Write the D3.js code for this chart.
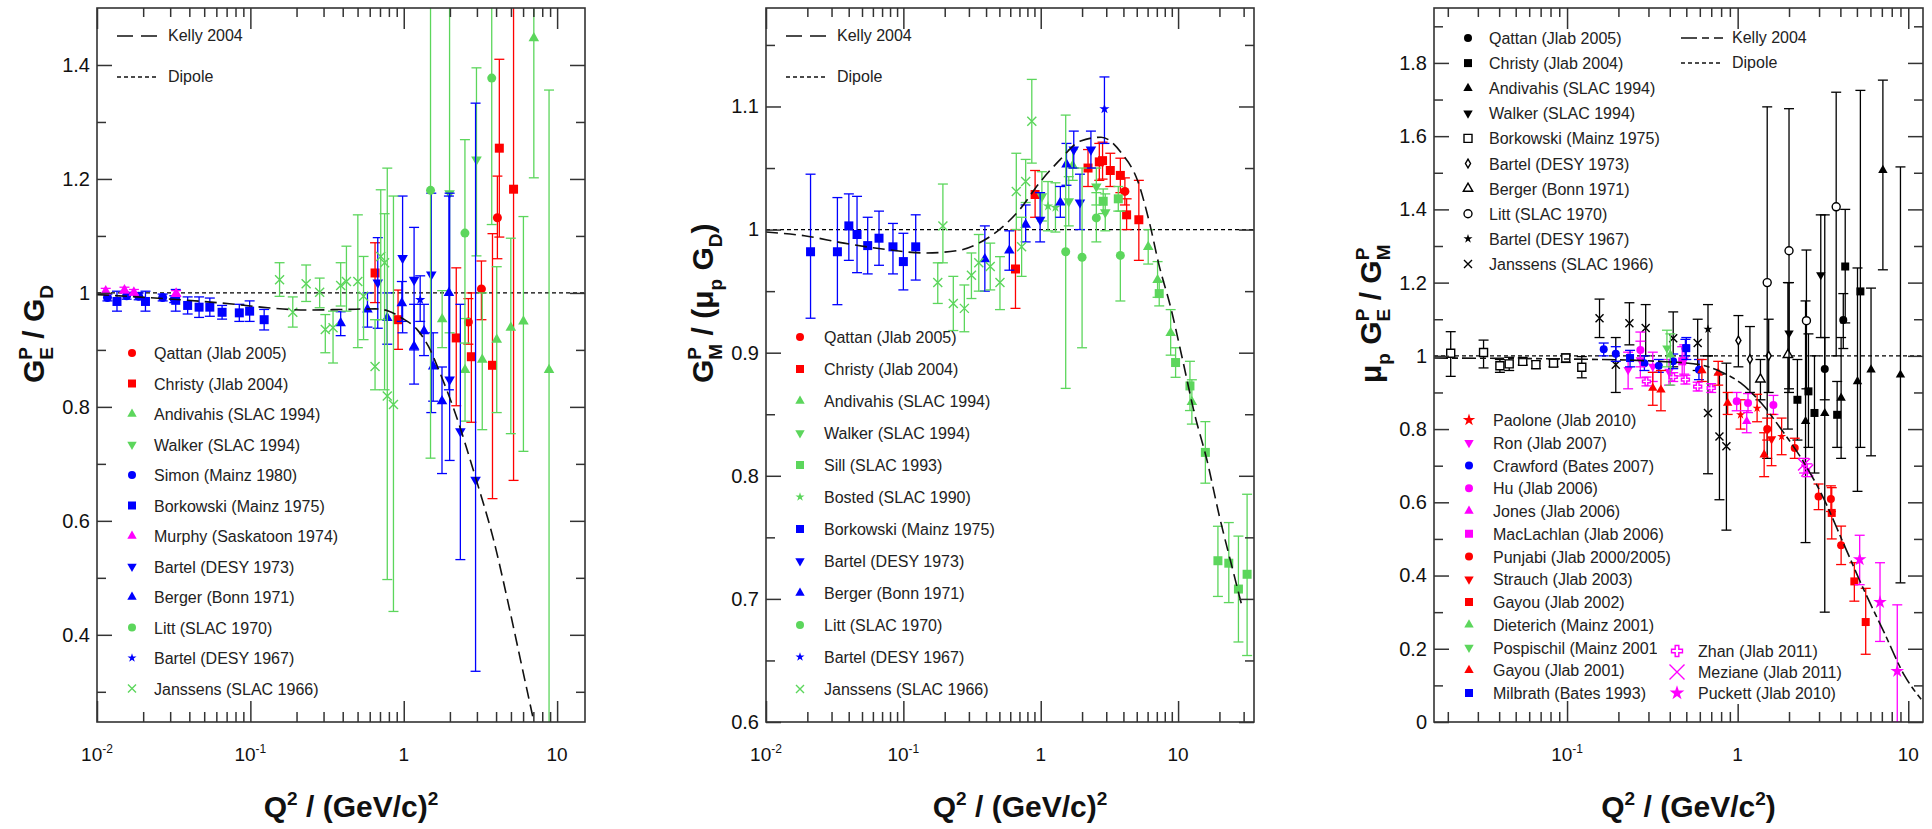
<!DOCTYPE html>
<html>
<head>
<meta charset="utf-8">
<script src="https://cdn.jsdelivr.net/npm/d3@7"></script>
<style>
  body { margin: 0; background: #ffffff; }
  svg { font-family: "Liberation Sans", Arial, Helvetica, sans-serif; }
</style>
</head>
<body>
<script>
// proton form factor ratios, three panels
// every point is [Q2, value, lower end of error bar, upper end of error bar]

// ---- panel 1 : GE / GD ----
const GE_QATTAN = [[2.64, 0.949, 0.91, 0.99], [3.21, 1.007, 0.953, 1.056], [4.08, 1.132, 1.06, 1.205]];
const GE_CHRISTY = [[0.65, 1.035, 0.983, 1.088], [0.918, 0.953, 0.901, 1.005], [2.2, 0.921, 0.802, 1.044],
  [2.76, 0.888, 0.773, 1.0], [3.79, 0.873, 0.639, 1.104], [4.2, 1.254, 1.098, 1.41], [5.2, 1.182, 0.671, 1.6]];
const GE_ANDIVAHIS = [[1.78, 0.954, 0.904, 1.004], [2.51, 0.865, 0.775, 0.955], [3.25, 0.883, 0.76, 1.0],
  [4.04, 0.918, 0.79, 1.046], [4.99, 0.939, 0.753, 1.096], [6.03, 0.95, 0.722, 1.134], [7.05, 1.447, 1.202, 1.6],
  [8.86, 0.865, 0.2, 1.356]];
const GE_WALKER = [[1.99, 1.175, 0.93, 1.6], [2.98, 1.234, 1.065, 1.395]];
const GE_SIMON = [[0.0117, 0.992, 0.986, 0.998], [0.0156, 0.995, 0.989, 1.001], [0.0187, 0.994, 0.988, 1.0],
  [0.0268, 0.992, 0.986, 0.998], [0.0319, 0.989, 0.983, 0.995]];
const GE_BORKOWSKI = [[0.0135, 0.985, 0.968, 1.003], [0.0207, 0.985, 0.968, 1.003], [0.0326, 0.987, 0.968, 1.006],
  [0.039, 0.978, 0.963, 0.993], [0.0463, 0.975, 0.957, 0.993], [0.0544, 0.975, 0.959, 0.991],
  [0.0654, 0.966, 0.954, 0.978], [0.0847, 0.965, 0.95, 0.98], [0.0989, 0.968, 0.95, 0.986], [0.123, 0.953, 0.935, 0.971]];
const GE_MURPHY = [[0.0114, 1.003, 0.998, 1.008], [0.0151, 1.005, 1.0, 1.01], [0.0174, 1.001, 0.996, 1.006],
  [0.0328, 0.999, 0.994, 1.004]];
const GE_BARTEL73 = [[0.677, 1.018, 0.938, 1.097], [0.983, 1.061, 0.93, 1.17], [1.168, 1.023, 0.9, 1.115],
  [1.512, 1.032, 0.79, 1.175], [1.992, 0.848, 0.706, 1.175], [2.34, 0.757, 0.532, 0.98], [2.94, 0.672, 0.336, 1.333]];
const GE_BERGER = [[0.388, 0.947, 0.925, 0.967], [0.58, 0.971, 0.94, 1.0], [0.781, 0.956, 0.91, 1.0],
  [0.972, 0.982, 0.95, 1.02], [1.168, 0.906, 0.84, 0.98], [1.356, 0.933, 0.89, 0.98], [1.556, 0.871, 0.81, 0.93],
  [1.776, 0.81, 0.683, 0.87], [1.97, 1.0, 0.83, 1.17]];
const GE_LITT = [[1.495, 1.18, 0.71, 1.6], [2.506, 1.105, 0.912, 1.269], [3.747, 1.377, 1.12, 1.6]];
const GE_BARTEL67 = [[1.28, 0.988, 0.95, 1.03]];
const GE_JANSSENS = [[0.155, 1.023, 0.994, 1.053], [0.189, 0.966, 0.94, 0.993], [0.231, 1.016, 0.985, 1.049],
  [0.283, 1.001, 0.974, 1.026], [0.308, 0.936, 0.895, 0.962], [0.346, 0.939, 0.877, 0.968], [0.388, 1.013, 0.977, 1.053],
  [0.423, 1.02, 0.968, 1.082], [0.502, 1.02, 0.904, 1.137], [0.547, 0.994, 0.918, 1.064], [0.65, 0.871, 0.83, 0.953],
  [0.708, 1.064, 0.953, 1.181], [0.75, 1.053, 0.83, 1.139], [0.781, 0.819, 0.497, 1.219], [0.857, 0.804, 0.441, 1.17]];
const KELLY_GE = [[0.01, 0.997], [0.031, 0.989], [0.073, 0.981], [0.13, 0.974], [0.233, 0.970], [0.41, 0.971],
  [0.65, 0.972], [0.8, 0.968], [0.97, 0.956], [1.22, 0.936], [1.45, 0.906], [1.72, 0.86], [2.11, 0.798],
  [2.97, 0.672], [3.85, 0.567], [4.85, 0.45], [5.76, 0.357], [7.05, 0.248]];

// ---- panel 2 : GM / (mu GD) ----
const GM_QATTAN = [[4.1, 1.031, 1.02, 1.042]];
const GM_CHRISTY = [[0.655, 0.968, 0.936, 1.0], [0.91, 1.0285, 1.01, 1.048], [2.21, 1.05, 1.035, 1.065],
  [2.67, 1.055, 1.04, 1.07], [2.82, 1.056, 1.041, 1.071], [3.21, 1.048, 1.035, 1.062], [3.8, 1.044, 1.03, 1.058],
  [4.22, 1.012, 1.0, 1.025], [5.18, 1.008, 0.975, 1.04]];
const GM_ANDIVAHIS = [[1.71, 1.052, 1.04, 1.065], [6.06, 0.986, 0.972, 1.0], [7.09, 0.959, 0.945, 0.974],
  [8.83, 0.916, 0.898, 0.935], [12.6, 0.86, 0.842, 0.878]];
const GM_WALKER = [[1.02, 1.027, 1.007, 1.047], [1.6, 1.023, 1.003, 1.043], [2.54, 1.035, 1.02, 1.05],
  [2.95, 1.014, 0.999, 1.029]];
const GM_SILL = [[2.85, 1.023, 1.013, 1.033], [3.67, 1.025, 1.015, 1.035], [7.29, 0.948, 0.938, 0.958],
  [9.59, 0.892, 0.88, 0.904], [12.2, 0.873, 0.853, 0.893], [15.8, 0.819, 0.794, 0.844], [19.5, 0.731, 0.702, 0.759],
  [23.4, 0.729, 0.697, 0.762], [27.5, 0.708, 0.665, 0.751], [31.8, 0.72, 0.654, 0.785]];
const GM_BOSTED = [[1.13, 1.019, 0.999, 1.039], [1.28, 1.018, 0.998, 1.038]];
const GM_BORKOWSKI = [[0.0211, 0.982, 0.928, 1.045], [0.0331, 0.982, 0.939, 1.026], [0.0401, 1.003, 0.975, 1.029],
  [0.046, 0.996, 0.965, 1.027], [0.055, 0.987, 0.964, 1.01], [0.0665, 0.993, 0.971, 1.015], [0.084, 0.986, 0.964, 1.005],
  [0.1, 0.974, 0.951, 0.997], [0.123, 0.986, 0.959, 1.012]];
const GM_BARTEL73 = [[0.99, 1.008, 0.99, 1.03], [1.74, 1.065, 1.05, 1.08], [1.93, 1.022, 1.0, 1.045],
  [2.32, 1.065, 1.05, 1.08]];
const GM_BERGER = [[0.392, 0.976, 0.95, 1.003], [0.591, 0.983, 0.967, 0.999], [0.777, 1.004, 0.99, 1.02],
  [1.39, 1.022, 1.01, 1.035], [1.54, 1.053, 1.036, 1.07]];
const GM_LITT = [[1.52, 0.982, 0.871, 1.093], [2.0, 0.9775, 0.904, 1.05], [2.54, 1.0095, 0.99, 1.03],
  [3.8, 0.979, 0.942, 1.015]];
const GM_BARTEL67 = [[2.91, 1.098, 1.07, 1.124]];
const GM_JANSSENS = [[0.178, 0.957, 0.94, 0.973], [0.194, 1.003, 0.973, 1.037], [0.231, 0.94, 0.918, 0.962],
  [0.278, 0.936, 0.917, 0.955], [0.313, 0.963, 0.944, 0.981], [0.354, 0.973, 0.95, 0.996], [0.429, 0.97, 0.951, 0.989],
  [0.505, 0.957, 0.935, 0.978], [0.664, 1.031, 1.0, 1.062], [0.726, 0.986, 0.962, 1.01], [0.777, 1.039, 1.022, 1.057],
  [0.861, 1.088, 1.054, 1.122]];
const KELLY_GM = [[0.01, 0.998], [0.019, 0.995], [0.037, 0.989], [0.073, 0.984], [0.145, 0.981], [0.25, 0.983],
  [0.355, 0.989], [0.5, 1.0], [0.7, 1.016], [0.98, 1.038], [1.39, 1.057], [1.95, 1.072], [2.75, 1.075],
  [3.88, 1.062], [5.1, 1.039], [6.27, 1.003], [7.2, 0.973], [8.87, 0.936], [10.8, 0.894], [13.2, 0.85],
  [16.2, 0.813], [20.0, 0.767], [24.7, 0.726], [29.5, 0.692]];

// ---- panel 3 : mu GE / GM ----
const R_QATTAN = [[3.24, 0.964, 0.88, 1.05], [4.16, 1.098, 1.02, 1.17]];
const R_CHRISTY = [[2.24, 0.88, 0.77, 0.99], [2.6, 0.903, 0.75, 1.06], [2.82, 0.844, 0.68, 1.0],
  [3.83, 0.839, 0.75, 0.93], [4.27, 1.244, 1.09, 1.4], [5.24, 1.176, 0.75, 1.725]];
const R_ANDIVAHIS = [[2.5, 0.821, 0.49, 1.15], [3.24, 0.843, 0.3, 1.385], [4.04, 0.885, 0.72, 1.05],
  [5.04, 0.93, 0.63, 1.24], [6.05, 0.962, 0.727, 1.185], [7.1, 1.507, 1.235, 1.753], [9.0, 0.948, 0.38, 1.516]];
const R_WALKER = [[2.0, 1.062, 0.91, 1.2], [3.07, 1.221, 1.05, 1.385]];
const R_BORKOWSKI = [[0.0208, 1.007, 0.944, 1.066], [0.0324, 1.009, 0.967, 1.043], [0.0404, 0.973, 0.955, 0.99],
  [0.0458, 0.978, 0.96, 0.996], [0.055, 0.985, 0.975, 0.994], [0.0657, 0.976, 0.965, 0.986], [0.0833, 0.98, 0.97, 0.99],
  [0.0983, 0.994, 0.982, 1.005], [0.122, 0.969, 0.94, 0.998]];
const R_BARTEL73 = [[1.01, 1.042, 0.97, 1.11], [1.18, 0.991, 0.9, 1.08], [1.52, 1.0, 0.9, 1.1]];
const R_BERGER = [[1.36, 0.936, 0.88, 0.99], [1.97, 1.003, 0.8, 1.2]];
const R_LITT = [[1.49, 1.2, 0.72, 1.68], [2.0, 1.287, 0.9, 1.675], [2.53, 1.096, 0.91, 1.289], [3.78, 1.407, 1.0, 1.72]];
const R_BARTEL67 = [[0.67, 1.073, 1.0, 1.14]];
const R_JANSSENS = [[0.155, 1.103, 1.05, 1.155], [0.193, 0.976, 0.9, 1.05], [0.232, 1.089, 1.03, 1.145],
  [0.289, 1.076, 1.0, 1.14], [0.419, 1.048, 0.97, 1.12], [0.583, 1.035, 0.96, 1.1], [0.67, 0.844, 0.678, 1.0],
  [0.782, 0.78, 0.607, 0.95], [0.859, 0.753, 0.524, 0.98]];
const R_PAOLONE = [[1.04, 0.839, 0.8, 0.88], [1.3, 0.857, 0.82, 0.895], [1.81, 0.78, 0.73, 0.83]];
const R_RON = [[0.228, 0.962, 0.91, 1.01], [0.269, 0.989, 0.94, 1.04], [0.318, 0.971, 0.93, 1.01],
  [0.396, 0.957, 0.92, 0.99], [0.486, 0.989, 0.95, 1.03]];
const R_CRAWFORD = [[0.164, 1.018, 1.0, 1.035], [0.193, 1.006, 0.985, 1.025], [0.284, 0.98, 0.96, 1.0],
  [0.345, 0.973, 0.955, 0.99], [0.419, 0.985, 0.965, 1.005], [0.494, 1.021, 1.0, 1.045], [0.593, 0.962, 0.935, 0.99]];
const R_HU = [[0.269, 1.016, 0.97, 1.065], [0.987, 0.876, 0.85, 0.9], [1.15, 0.871, 0.845, 0.897], [1.62, 0.866, 0.84, 0.892]];
const R_JONES = [[1.13, 0.821, 0.79, 0.85]];
const R_MACLACHLAN = [[0.473, 0.985, 0.945, 1.025]];
const R_PUNJABI = [[1.49, 0.8, 0.77, 0.83], [2.16, 0.748, 0.72, 0.775], [2.98, 0.616, 0.58, 0.65],
  [3.52, 0.609, 0.575, 0.645], [4.04, 0.483, 0.43, 0.535]];
const R_STRAUCH = [[1.58, 0.773, 0.7, 0.84]];
const R_GAYOU02 = [[3.56, 0.571, 0.5, 0.64], [4.83, 0.384, 0.33, 0.435], [5.63, 0.273, 0.185, 0.365]];
const R_DIETERICH = [[0.403, 1.003, 0.92, 1.06]];
const R_POSPISCHIL = [[0.385, 1.021, 0.97, 1.07]];
const R_GAYOU01 = [[0.318, 0.912, 0.865, 0.955], [0.355, 0.907, 0.85, 0.96], [0.617, 0.96, 0.93, 0.99],
  [0.769, 0.953, 0.92, 0.985], [0.874, 0.871, 0.84, 0.9], [1.43, 0.73, 0.67, 0.79]];
const R_MILBRATH = [[0.234, 0.994, 0.97, 1.015], [0.5, 1.021, 0.99, 1.05]];
const R_ZHAN = [[0.292, 0.93, 0.918, 0.942], [0.419, 0.942, 0.93, 0.954], [0.494, 0.935, 0.923, 0.947],
  [0.583, 0.916, 0.904, 0.928], [0.7, 0.912, 0.9, 0.924]];
const R_MEZIANE = [[2.45, 0.703, 0.68, 0.72], [2.56, 0.687, 0.67, 0.705]];
const R_PUCKETT = [[5.19, 0.444, 0.375, 0.51], [6.83, 0.327, 0.22, 0.435], [8.62, 0.139, 0.0, 0.32]];
const KELLY_R = [[0.0166, 0.994], [0.114, 0.991], [0.345, 0.985], [0.6, 0.976], [0.791, 0.957], [1.04, 0.926],
  [1.375, 0.871], [1.81, 0.798], [2.39, 0.716], [3.15, 0.616], [4.16, 0.489], [5.48, 0.362], [7.23, 0.244],
  [9.53, 0.126], [11.9, 0.062]];

// axis ticks
const X_LABELS_A = [0.01, 0.1, 1, 10];
const X_LABELS_C = [0.1, 1, 10];
const Y_TICKS_A = [0.4, 0.6, 0.8, 1, 1.2, 1.4];
const Y_MINOR_A = [0.3, 0.5, 0.7, 0.9, 1.1, 1.3];
const Y_TICKS_B = [0.6, 0.7, 0.8, 0.9, 1, 1.1];
const Y_MINOR_B = [0.65, 0.75, 0.85, 0.95, 1.05, 1.15];
const Y_TICKS_C = [0, 0.2, 0.4, 0.6, 0.8, 1, 1.2, 1.4, 1.6, 1.8];
const Y_MINOR_C = [0.1, 0.3, 0.5, 0.7, 0.9, 1.1, 1.3, 1.5, 1.7, 1.9];

const BLUE = '#0000ff', RED = '#ff0000', GREEN = '#5cd65c', MAGENTA = '#ff00ff', BLACK = '#000000';
const AXIS_COLOR = '#333333';

const svg = d3.select('body').append('svg')
  .attr('width', 1932)
  .attr('height', 829);

// draws one marker of a given shape, d is roughly its width in px
function drawMarker(g, shape, cx, cy, d, color, open) {
  let path;
  if (shape === 'x') {
    const r = d / 2;
    path = `M${-r},${-r}L${r},${r}M${-r},${r}L${r},${-r}`;
  } else {
    const types = {circle: d3.symbolCircle, square: d3.symbolSquare, up: d3.symbolTriangle,
      down: d3.symbolTriangle, star: d3.symbolStar, cross: d3.symbolCross, diamond: d3.symbolDiamond};
    const areas = {circle: Math.PI * d * d / 4, square: d * d, up: 0.6 * d * d, down: 0.6 * d * d,
      star: 0.4 * d * d, cross: 0.55 * d * d, diamond: 0.35 * d * d};
    path = d3.symbol().type(types[shape]).size(areas[shape])();
  }
  const m = g.append('path')
    .attr('d', path)
    .attr('transform', `translate(${cx},${cy})` + (shape === 'down' ? ' rotate(180)' : ''));
  if (shape === 'x' || open) {
    m.attr('fill', shape === 'x' ? 'none' : '#ffffff').attr('stroke', color).attr('stroke-width', 1.4);
  } else {
    m.attr('fill', color);
  }
}

// text with sub and superscripts
function richText(sel, parts, big, small) {
  let shift = 0;
  parts.forEach(pt => {
    const target = pt.s === 'sup' ? -0.4 * big : (pt.s === 'sub' ? 0.3 * big : 0);
    const ts = sel.append('tspan')
      .attr('dy', target - shift)
      .attr('font-size', pt.s ? small : big)
      .text(pt.t);
    if (pt.dx) ts.attr('dx', pt.dx);
    shift = target;
  });
}

function drawPanel(p) {
  const x = d3.scaleLog().domain(p.xDomain).range([p.left, p.right]);
  const y = d3.scaleLinear().domain(p.yDomain).range([p.bottom, p.top]);

  svg.append('clipPath').attr('id', 'clip' + p.id)
    .append('rect')
      .attr('x', p.left).attr('y', p.top)
      .attr('width', p.right - p.left).attr('height', p.bottom - p.top);

  const plot = svg.append('g').attr('clip-path', `url(#clip${p.id})`);

  // dipole reference line
  plot.append('line')
    .attr('x1', p.left).attr('x2', p.right)
    .attr('y1', y(1)).attr('y2', y(1))
    .attr('stroke', BLACK).attr('stroke-width', 1.3)
    .attr('stroke-dasharray', '4,3');

  // data with error bars
  p.series.forEach(s => {
    const sg = plot.append('g');
    const cap = 5;
    s.data.forEach(d => {
      const px = x(d[0]);
      sg.append('line')
        .attr('x1', px).attr('x2', px).attr('y1', y(d[2])).attr('y2', y(d[3]))
        .attr('stroke', s.color).attr('stroke-width', 1.3);
      [d[2], d[3]].forEach(v => {
        sg.append('line')
          .attr('x1', px - cap).attr('x2', px + cap).attr('y1', y(v)).attr('y2', y(v))
          .attr('stroke', s.color).attr('stroke-width', 1.3);
      });
      drawMarker(sg, s.shape, px, y(d[1]), s.size || p.markerSize, s.color, s.open);
    });
  });

  // Kelly 2004 fit
  plot.append('path')
    .datum(p.kelly)
    .attr('d', d3.line().x(d => x(d[0])).y(d => y(d[1])).curve(d3.curveMonotoneX))
    .attr('fill', 'none')
    .attr('stroke', '#111').attr('stroke-width', 1.6)
    .attr('stroke-dasharray', p.kellyDash);

  // frame
  svg.append('rect')
    .attr('x', p.left).attr('y', p.top)
    .attr('width', p.right - p.left).attr('height', p.bottom - p.top)
    .attr('fill', 'none').attr('stroke', AXIS_COLOR).attr('stroke-width', 1.6);

  // ticks, pointing inwards on all four sides
  const isDecade = v => Math.abs(Math.log10(v) - Math.round(Math.log10(v))) < 1e-6;
  const allX = x.ticks();
  const xMajor = allX.filter(isDecade);
  const xMinor = allX.filter(v => !isDecade(v));
  const tickAxes = [
    [d3.axisBottom(x).tickValues(xMajor).tickSize(-21), 0, p.bottom],
    [d3.axisBottom(x).tickValues(xMinor).tickSize(-10), 0, p.bottom],
    [d3.axisTop(x).tickValues(xMajor).tickSize(-21), 0, p.top],
    [d3.axisTop(x).tickValues(xMinor).tickSize(-9), 0, p.top],
    [d3.axisLeft(y).tickValues(p.yMinor).tickSize(-9), p.left, 0],
    [d3.axisRight(y).tickValues(p.yTicks).tickSize(-15), p.right, 0],
    [d3.axisRight(y).tickValues(p.yMinor).tickSize(-9), p.right, 0]
  ];
  tickAxes.forEach(t => {
    svg.append('g')
      .attr('transform', `translate(${t[1]},${t[2]})`)
      .call(t[0].tickFormat(''))
      .attr('color', AXIS_COLOR)
      .call(a => a.select('.domain').remove())
      .call(a => a.selectAll('line').attr('stroke-width', 1.5));
  });

  // left axis with labels
  svg.append('g')
    .attr('transform', `translate(${p.left},0)`)
    .call(d3.axisLeft(y).tickValues(p.yTicks).tickSize(-15).tickPadding(7).tickFormat(d => d))
    .attr('color', AXIS_COLOR)
    .attr('font-size', 20)
    .attr('font-family', '"Liberation Sans", Arial, sans-serif')
    .call(a => a.select('.domain').remove())
    .call(a => a.selectAll('line').attr('stroke-width', 1.5))
    .call(a => a.selectAll('text').attr('fill', '#111'));

  // x tick labels with powers of ten
  p.xLabels.forEach(v => {
    const e = Math.round(Math.log10(v));
    const t = svg.append('text')
      .attr('x', x(v)).attr('y', 761)
      .attr('text-anchor', 'middle')
      .attr('font-size', 19).attr('fill', '#111');
    if (e < 0) {
      t.append('tspan').text('10');
      t.append('tspan').attr('dy', -8).attr('font-size', 12).text(e);
    } else {
      t.text(v);
    }
  });

  // axis titles
  const xt = svg.append('text')
    .attr('x', (p.left + p.right) / 2 + 10).attr('y', 817)
    .attr('text-anchor', 'middle')
    .attr('font-weight', 'bold').attr('fill', '#111');
  richText(xt, p.xTitle, 30, 19);

  const yt = svg.append('text')
    .attr('transform', `translate(${p.left - 53},383) rotate(-90)`)
    .attr('font-weight', 'bold').attr('fill', '#111');
  richText(yt, p.yTitle, 30, 19);

  // legend
  const lg = svg.append('g').attr('font-size', 16).attr('fill', '#222');
  p.lines.forEach(l => {
    lg.append('line')
      .attr('x1', l.x).attr('x2', l.x + 42).attr('y1', l.y).attr('y2', l.y)
      .attr('stroke', '#111').attr('stroke-width', 1.5)
      .attr('stroke-dasharray', l.dash);
    lg.append('text').attr('x', l.x + 51).attr('y', l.y + 5).text(l.label);
  });
  p.legend.forEach(col => {
    // a column may sit on a white box that hides what is under it
    if (col.box) {
      lg.append('rect')
        .attr('x', col.box[0]).attr('y', col.box[1])
        .attr('width', col.box[2]).attr('height', col.box[3])
        .attr('fill', '#ffffff');
    }
    col.items.forEach((s, i) => {
      const ly = col.y0 + i * col.step;
      drawMarker(lg, s.shape, col.x, ly, s.legendSize || 8, s.color, s.open);
      lg.append('text').attr('x', col.tx).attr('y', ly + 6).text(s.label);
    });
  });
}

// series tables (style + reference to data)
const SERIES_A = [
  {label: 'Qattan (Jlab 2005)', data: GE_QATTAN, shape: 'circle', color: RED},
  {label: 'Christy (Jlab 2004)', data: GE_CHRISTY, shape: 'square', color: RED},
  {label: 'Andivahis (SLAC 1994)', data: GE_ANDIVAHIS, shape: 'up', color: GREEN},
  {label: 'Walker (SLAC 1994)', data: GE_WALKER, shape: 'down', color: GREEN},
  {label: 'Simon (Mainz 1980)', data: GE_SIMON, shape: 'circle', color: BLUE},
  {label: 'Borkowski (Mainz 1975)', data: GE_BORKOWSKI, shape: 'square', color: BLUE},
  {label: 'Murphy (Saskatoon 1974)', data: GE_MURPHY, shape: 'up', color: MAGENTA},
  {label: 'Bartel (DESY 1973)', data: GE_BARTEL73, shape: 'down', color: BLUE},
  {label: 'Berger (Bonn 1971)', data: GE_BERGER, shape: 'up', color: BLUE},
  {label: 'Litt (SLAC 1970)', data: GE_LITT, shape: 'circle', color: GREEN},
  {label: 'Bartel (DESY 1967)', data: GE_BARTEL67, shape: 'star', color: BLUE},
  {label: 'Janssens (SLAC 1966)', data: GE_JANSSENS, shape: 'x', color: GREEN}
];

const SERIES_B = [
  {label: 'Qattan (Jlab 2005)', data: GM_QATTAN, shape: 'circle', color: RED},
  {label: 'Christy (Jlab 2004)', data: GM_CHRISTY, shape: 'square', color: RED},
  {label: 'Andivahis (SLAC 1994)', data: GM_ANDIVAHIS, shape: 'up', color: GREEN},
  {label: 'Walker (SLAC 1994)', data: GM_WALKER, shape: 'down', color: GREEN},
  {label: 'Sill (SLAC 1993)', data: GM_SILL, shape: 'square', color: GREEN},
  {label: 'Bosted (SLAC 1990)', data: GM_BOSTED, shape: 'star', color: GREEN},
  {label: 'Borkowski (Mainz 1975)', data: GM_BORKOWSKI, shape: 'square', color: BLUE},
  {label: 'Bartel (DESY 1973)', data: GM_BARTEL73, shape: 'down', color: BLUE},
  {label: 'Berger (Bonn 1971)', data: GM_BERGER, shape: 'up', color: BLUE},
  {label: 'Litt (SLAC 1970)', data: GM_LITT, shape: 'circle', color: GREEN},
  {label: 'Bartel (DESY 1967)', data: GM_BARTEL67, shape: 'star', color: BLUE},
  {label: 'Janssens (SLAC 1966)', data: GM_JANSSENS, shape: 'x', color: GREEN}
];

const SERIES_C1 = [
  {label: 'Qattan (Jlab 2005)', data: R_QATTAN, shape: 'circle', color: BLACK},
  {label: 'Christy (Jlab 2004)', data: R_CHRISTY, shape: 'square', color: BLACK},
  {label: 'Andivahis (SLAC 1994)', data: R_ANDIVAHIS, shape: 'up', color: BLACK},
  {label: 'Walker (SLAC 1994)', data: R_WALKER, shape: 'down', color: BLACK},
  {label: 'Borkowski (Mainz 1975)', data: R_BORKOWSKI, shape: 'square', color: BLACK, open: true},
  {label: 'Bartel (DESY 1973)', data: R_BARTEL73, shape: 'diamond', color: BLACK, open: true},
  {label: 'Berger (Bonn 1971)', data: R_BERGER, shape: 'up', color: BLACK, open: true},
  {label: 'Litt (SLAC 1970)', data: R_LITT, shape: 'circle', color: BLACK, open: true},
  {label: 'Bartel (DESY 1967)', data: R_BARTEL67, shape: 'star', color: BLACK},
  {label: 'Janssens (SLAC 1966)', data: R_JANSSENS, shape: 'x', color: BLACK}
];
const SERIES_C2 = [
  {label: 'Paolone (Jlab 2010)', data: R_PAOLONE, shape: 'star', color: RED, legendSize: 11},
  {label: 'Ron (Jlab 2007)', data: R_RON, shape: 'down', color: MAGENTA},
  {label: 'Crawford (Bates 2007)', data: R_CRAWFORD, shape: 'circle', color: BLUE},
  {label: 'Hu (Jlab 2006)', data: R_HU, shape: 'circle', color: MAGENTA},
  {label: 'Jones (Jlab 2006)', data: R_JONES, shape: 'up', color: MAGENTA},
  {label: 'MacLachlan (Jlab 2006)', data: R_MACLACHLAN, shape: 'square', color: MAGENTA},
  {label: 'Punjabi (Jlab 2000/2005)', data: R_PUNJABI, shape: 'circle', color: RED},
  {label: 'Strauch (Jlab 2003)', data: R_STRAUCH, shape: 'down', color: RED},
  {label: 'Gayou (Jlab 2002)', data: R_GAYOU02, shape: 'square', color: RED},
  {label: 'Dieterich (Mainz 2001)', data: R_DIETERICH, shape: 'up', color: GREEN},
  {label: 'Pospischil (Mainz 2001)', data: R_POSPISCHIL, shape: 'down', color: GREEN},
  {label: 'Gayou (Jlab 2001)', data: R_GAYOU01, shape: 'up', color: RED},
  {label: 'Milbrath (Bates 1993)', data: R_MILBRATH, shape: 'square', color: BLUE}
];
const SERIES_C3 = [
  {label: 'Zhan (Jlab 2011)', data: R_ZHAN, shape: 'cross', color: MAGENTA, open: true, legendSize: 11},
  {label: 'Meziane (Jlab 2011)', data: R_MEZIANE, shape: 'x', color: MAGENTA, size: 12, legendSize: 15},
  {label: 'Puckett (Jlab 2010)', data: R_PUCKETT, shape: 'star', color: MAGENTA, size: 12, legendSize: 13}
];

const Q2_TITLE = [{t: 'Q'}, {t: '2', s: 'sup'}, {t: ' / (GeV/c)'}, {t: '2', s: 'sup'}];

drawPanel({
  id: 'A', left: 97, right: 585, top: 8, bottom: 722,
  xDomain: [0.01, 15.2], yDomain: [0.247, 1.5],
  yTicks: Y_TICKS_A, yMinor: Y_MINOR_A, xLabels: X_LABELS_A,
  series: SERIES_A, kelly: KELLY_GE, kellyDash: '12,6', markerSize: 9,
  xTitle: Q2_TITLE,
  yTitle: [{t: 'G'}, {t: 'P', s: 'sup'}, {t: 'E', s: 'sub', dx: -12.7}, {t: ' / G'}, {t: 'D', s: 'sub'}],
  lines: [{x: 117, y: 36, dash: '16,8', label: 'Kelly 2004'}, {x: 117, y: 77, dash: '4,3', label: 'Dipole'}],
  legend: [{x: 132, tx: 154, y0: 353, step: 30.5, items: SERIES_A}]
});

drawPanel({
  id: 'B', left: 766, right: 1254, top: 8, bottom: 722,
  xDomain: [0.01, 35.7], yDomain: [0.6, 1.18],
  yTicks: Y_TICKS_B, yMinor: Y_MINOR_B, xLabels: X_LABELS_A,
  series: SERIES_B, kelly: KELLY_GM, kellyDash: '12,6', markerSize: 9,
  xTitle: Q2_TITLE,
  yTitle: [{t: 'G'}, {t: 'P', s: 'sup'}, {t: 'M', s: 'sub', dx: -12.7}, {t: ' / (\u03bc'}, {t: 'p', s: 'sub'},
    {t: ' G'}, {t: 'D', s: 'sub'}, {t: ')'}],
  lines: [{x: 786, y: 36, dash: '16,8', label: 'Kelly 2004'}, {x: 786, y: 77, dash: '4,3', label: 'Dipole'}],
  legend: [{x: 800, tx: 824, y0: 337, step: 32, items: SERIES_B}]
});

drawPanel({
  id: 'C', left: 1434, right: 1923, top: 8, bottom: 722,
  xDomain: [0.0166, 12.2], yDomain: [0, 1.95],
  yTicks: Y_TICKS_C, yMinor: Y_MINOR_C, xLabels: X_LABELS_C,
  series: SERIES_C1.concat(SERIES_C2, SERIES_C3), kelly: KELLY_R, kellyDash: '14,4,6,4', markerSize: 8,
  xTitle: [{t: 'Q'}, {t: '2', s: 'sup'}, {t: ' / (GeV/c'}, {t: '2', s: 'sup'}, {t: ')'}],
  yTitle: [{t: '\u03bc'}, {t: 'p', s: 'sub'}, {t: ' G'}, {t: 'P', s: 'sup'}, {t: 'E', s: 'sub', dx: -12.7},
    {t: ' / G'}, {t: 'P', s: 'sup'}, {t: 'M', s: 'sub', dx: -12.7}],
  lines: [{x: 1681, y: 38, dash: '16,5,7,5', label: 'Kelly 2004'}, {x: 1681, y: 63, dash: '4,3', label: 'Dipole'}],
  legend: [
    {x: 1468, tx: 1489, y0: 38, step: 25.1, items: SERIES_C1},
    {x: 1469, tx: 1493, y0: 420, step: 22.75, items: SERIES_C2},
    {x: 1677, tx: 1698, y0: 651, step: 21, items: SERIES_C3, box: [1657, 638, 170, 66]}
  ]
});
</script>
</body>
</html>
